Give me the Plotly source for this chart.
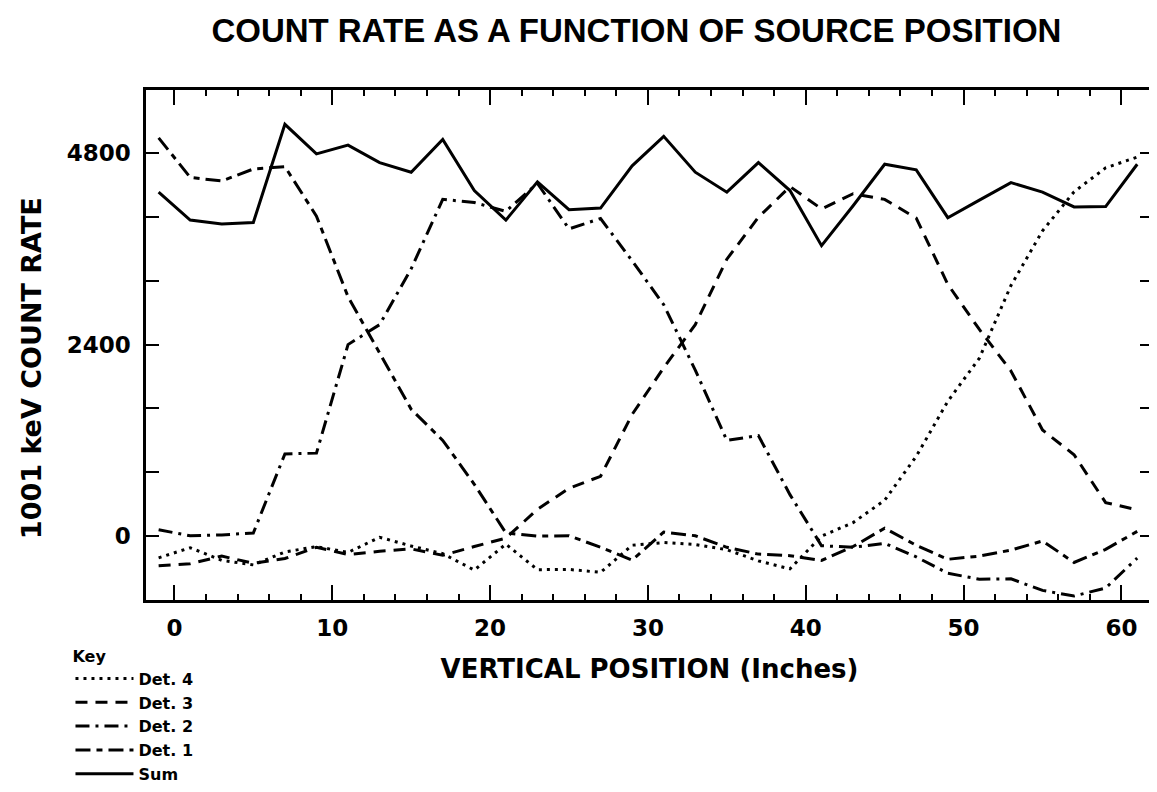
import plotly.graph_objects as go

# Source vertical positions (inches)
positions = [-1, 1, 3, 5, 7, 9, 11, 13, 15, 17, 19, 21, 23, 25, 27, 29,
             31, 33, 35, 37, 39, 41, 43, 45, 47, 49, 51, 53, 55, 57, 59, 61]

det1 = [4990, 4495, 4450, 4600, 4630, 4010, 3000, 2290, 1590, 1200, 650, 40,
        0, 5, -140, -300, 50, 5, -140, -225, -245, -305, -130, 100,
        -115, -290, -250, -175, -60, -330, -165, 60]

det2 = [80, 5, 15, 40, 1030, 1040, 2400, 2650, 3350, 4220, 4180, 4070,
        4420, 3850, 3980, 3450, 2900, 2080, 1200, 1260, 520, -120, -140, -90,
        -260, -465, -540, -535, -680, -750, -650, -275]

det3 = [-370, -345, -250, -340, -280, -140, -230, -190, -160, -240, -130, -25,
        336, 600, 750, 1525, 2110, 2650, 3470, 3995, 4380, 4100, 4290, 4220,
        3985, 3155, 2590, 2070, 1330, 1020, 420, 330]

det4 = [-272, -145, -303, -360, -198, -131, -204, -14, -123, -219, -425, -100,
        -420, -417, -454, -113, -80, -105, -170, -310, -410, 0, 170, 450,
        1000, 1690, 2230, 3140, 3825, 4315, 4615, 4750]

total = [4310, 3960, 3910, 3930, 5160, 4790, 4900, 4680, 4560, 4970, 4330, 3960,
         4440, 4090, 4110, 4640, 5010, 4560, 4310, 4680, 4330, 3640, 4140, 4660,
         4590, 3990, 4210, 4430, 4310, 4125, 4130, 4660]

series_names = ["Det. 4", "Det. 3", "Det. 2", "Det. 1", "Sum"]
series_values = [det4, det3, det2, det1, total]
series_dash = ["3px,5px", "12px,8px", "14px,6px,3px,6px", "15px,6px,6px,6px", "solid"]

x_tick_values = [0, 10, 20, 30, 40, 50, 60]
y_tick_values = [0, 2400, 4800]

TITLE_FONT = "Liberation Sans"
FONT = "DejaVu Sans"

fig = go.Figure()
for name, vals, dash in zip(series_names, series_values, series_dash):
    fig.add_trace(go.Scatter(
        x=positions, y=vals, mode="lines", name=name,
        line=dict(color="black", width=3, dash=dash),
    ))

fig.update_layout(
    width=1157, height=792,
    paper_bgcolor="white", plot_bgcolor="white",
    margin=dict(l=138, r=9, t=82, b=195),
    font=dict(family=FONT, color="black"),
    title=dict(
        text="COUNT RATE AS A FUNCTION OF SOURCE POSITION",
        font=dict(family=TITLE_FONT, size=33, weight="bold", color="black"),
        x=0.487, xref="paper", xanchor="center",
        y=0.972, yref="container", yanchor="middle",
    ),
    showlegend=True,
    legend=dict(
        title=dict(text="Key", font=dict(family=FONT, size=16, weight="bold")),
        font=dict(family=FONT, size=16, weight="bold", color="black"),
        x=-0.075, y=-0.08, xanchor="left", yanchor="top",
        bgcolor="rgba(0,0,0,0)", tracegroupgap=0, itemwidth=58,
        traceorder="normal",
    ),
)

fig.update_xaxes(
    range=[-1.8, 62],
    tickvals=x_tick_values,
    ticks="inside", ticklen=15, tickwidth=2, tickcolor="black",
    minor=dict(dtick=2, tick0=0, ticks="inside", ticklen=6, tickwidth=2, tickcolor="black"),
    mirror="allticks", showline=True, linewidth=2.5, linecolor="black",
    showgrid=False, zeroline=False,
    tickfont=dict(family=FONT, size=23, weight="bold"),
    ticklabelstandoff=6,
    title=dict(text="VERTICAL POSITION (Inches)", standoff=20,
               font=dict(family=FONT, size=26, weight="bold")),
)

fig.update_yaxes(
    range=[-800, 5590],
    tickvals=y_tick_values,
    ticks="inside", ticklen=13, tickwidth=2, tickcolor="black",
    minor=dict(dtick=800, tick0=0, ticks="inside", ticklen=13, tickwidth=2, tickcolor="black"),
    mirror="allticks", showline=True, linewidth=2.5, linecolor="black",
    showgrid=False, zeroline=False,
    tickfont=dict(family=FONT, size=23, weight="bold"),
    ticklabelstandoff=8,
)

fig.add_annotation(
    text="1001 keV COUNT RATE", textangle=-90,
    xref="paper", yref="paper", x=-0.113, y=0.455,
    xanchor="center", yanchor="middle", showarrow=False,
    font=dict(family=FONT, size=27, weight="bold", color="black"),
)

fig.write_html("out.html")
